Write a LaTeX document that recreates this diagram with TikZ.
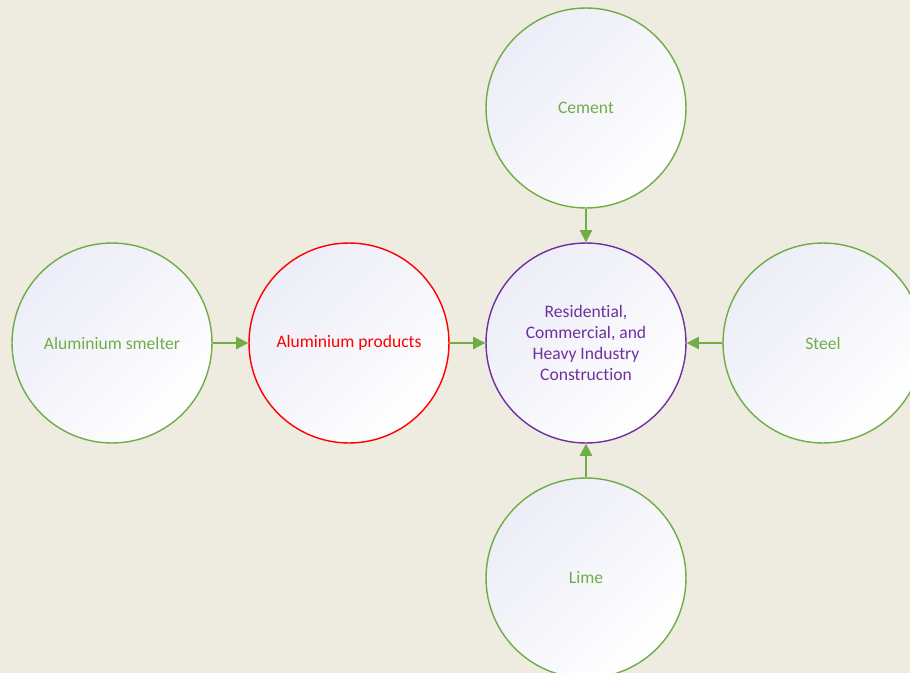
\documentclass[tikz,border=0pt]{standalone}
\usepackage{fontspec}
\setmainfont[RawFeature=-liga]{Carlito}
\usepackage{tikz}
\usetikzlibrary{arrows.meta}

\definecolor{paper}{HTML}{EEEBE0}
\definecolor{leaf}{HTML}{70AD47}
\definecolor{plum}{HTML}{7030A0}
\definecolor{lav}{HTML}{ECEDF7}

\tikzset{
    hub/.style={circle, minimum size=4cm, inner sep=0pt, align=center,
        top color=lav, bottom color=white, shading angle=45,
        line width=0.8pt, font=\fontsize{10}{11.9}\selectfont},
    feed/.style={hub, draw=leaf, text=leaf},
    link/.style={draw=leaf, line width=1.1pt, -{Triangle[length=7pt,width=7pt]}}
}

\begin{document}
\begin{tikzpicture}[x=0.02cm,y=-0.02cm]
                \useasboundingbox (0,0) rectangle (910,673);
                \clip (0,0) rectangle (910,673);
                \fill[paper] (0,0) rectangle (910,673);
                \node[feed] (cement) at (586,108) {Cement};
                \node[hub, draw=plum, text=plum] (build) at (586,343)
                    {Residential,\\Commercial, and\\Heavy Industry\\Construction};
                \node[feed] (steel) at (823,343) {Steel};
                \node[feed] (lime) at (586,578) {Lime};
                \node[feed] (smelter) at (112,343) {Aluminium smelter};
                \node[hub, draw=red, text=red] (alprod) at (349,343) {Aluminium products};
                \draw[link] (smelter) -- (alprod);
                \draw[link] (alprod) -- (build);
                \draw[link] (cement) -- (build);
                \draw[link] (steel) -- (build);
                \draw[link] (lime) -- (build);
            \end{tikzpicture}
\end{document}
